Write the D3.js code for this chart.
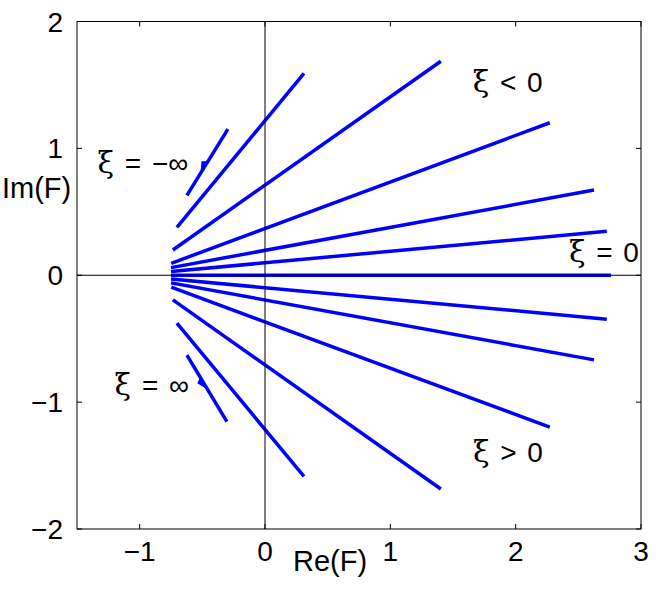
<html>
<head>
  <title>Re(F) / Im(F)</title>
  <script src="https://d3js.org/d3.v7.min.js"></script>
  <style>
    body { margin: 0; background: #fff; }
    text { font-family: "Liberation Sans", Arial, sans-serif; fill: #000; }
    .xi { font-family: "DejaVu Serif", serif; }
  </style>
</head>
<body>
<script>
  // segment end points (Re, Im)
  var startRe = [-0.623, -0.703, -0.735, -0.748, -0.750, -0.750, -0.750, -0.750, -0.750, -0.748, -0.735, -0.703, -0.623]
  var startIm = [ 0.630,  0.378,  0.199,  0.094,  0.060,  0.030,  0.000, -0.030, -0.060, -0.094, -0.194, -0.378, -0.630]
  var endRe   = [-0.296,  0.311,  1.403,  2.272,  2.625,  2.727,  2.761,  2.727,  2.625,  2.272,  1.403,  0.311, -0.304]
  var endIm   = [ 1.152,  1.591,  1.687,  1.202,  0.672,  0.346,  0.000, -0.346, -0.667, -1.197, -1.685, -1.586, -1.153]

  // little barbs on the two outer segments: [segment index, t from, t peak, t to]
  var barbs = [[0, 0.33, 0.47, 0.52], [12, 0.33, 0.38, 0.52]]

  var xTicks = [-1, 0, 1, 2, 3]
  var yTicks = [-2, -1, 0, 1, 2]

  var notes = [
    { x: 1.657, y: 1.446, t: '< 0' },
    { x: 2.425, y: 0.107, t: '= 0' },
    { x: 1.659, y: -1.468, t: '> 0' },
    { x: -1.336, y: 0.806, t: '= \u2212\u221e' },
    { x: -1.200, y: -0.943, t: '= \u221e' }
  ]

  var W = 664, H = 599
  var x = d3.scaleLinear().domain([-1.5, 3]).range([77, 641])
  var y = d3.scaleLinear().domain([-2, 2]).range([529, 21.5])

  var svg = d3.select('body').append('svg')
      .attr('width', W).attr('height', H)

  // segments
  var segs = d3.range(startRe.length).map(function (i) {
    return { x0: startRe[i], y0: startIm[i], x1: endRe[i], y1: endIm[i] }
  })
  svg.selectAll('line.seg')
      .data(segs)
      .enter()
    .append('line')
      .attr('class', 'seg')
      .attr('x1', function (d) { return x(d.x0) })
      .attr('y1', function (d) { return y(d.y0) })
      .attr('x2', function (d) { return x(d.x1) })
      .attr('y2', function (d) { return y(d.y1) })
      .attr('stroke', '#0000ff')
      .attr('stroke-width', 3.5)

  // barbs
  svg.selectAll('path.barb')
      .data(barbs)
      .enter()
    .append('path')
      .attr('class', 'barb')
      .attr('fill', '#0000ff')
      .attr('d', function (b) {
        var s = segs[b[0]]
        var px = function (t) { return x(s.x0 + t * (s.x1 - s.x0)) }
        var py = function (t) { return y(s.y0 + t * (s.y1 - s.y0)) }
        var dx = px(1) - px(0), dy = py(1) - py(0), L = Math.sqrt(dx * dx + dy * dy)
        var k = 5.5
        var nx = -Math.abs(dy) / L * k, ny = (dy < 0 ? -dx : dx) / L * k
        return 'M' + px(b[1]) + ',' + py(b[1]) +
               'L' + (px(b[2]) + nx) + ',' + (py(b[2]) + ny) +
               'L' + px(b[3]) + ',' + py(b[3]) + 'Z'
      })

  // zero lines, on top of the segments
  svg.append('line')
      .attr('x1', x(-1.5)).attr('x2', x(3))
      .attr('y1', y(0)).attr('y2', y(0))
      .attr('stroke', '#000').attr('stroke-width', 1.2)
  svg.append('line')
      .attr('x1', x(0)).attr('x2', x(0))
      .attr('y1', y(2)).attr('y2', y(-2))
      .attr('stroke', '#000').attr('stroke-width', 1)

  // box with inward ticks
  var g = svg.append('g').attr('fill', 'none').attr('stroke', '#000').attr('stroke-width', 1)
  g.append('rect')
      .attr('x', x(-1.5)).attr('y', y(2))
      .attr('width', x(3) - x(-1.5)).attr('height', y(-2) - y(2))
  xTicks.forEach(function (v) {
    g.append('line').attr('x1', x(v)).attr('x2', x(v)).attr('y1', y(-2)).attr('y2', y(-2) - 5)
    g.append('line').attr('x1', x(v)).attr('x2', x(v)).attr('y1', y(2)).attr('y2', y(2) + 5)
  })
  yTicks.forEach(function (v) {
    g.append('line').attr('y1', y(v)).attr('y2', y(v)).attr('x1', x(-1.5)).attr('x2', x(-1.5) + 5)
    g.append('line').attr('y1', y(v)).attr('y2', y(v)).attr('x1', x(3)).attr('x2', x(3) - 5)
  })

  function fmt(v) { return v < 0 ? '\u2212' + (-v) : '' + v }

  // tick labels
  svg.selectAll('text.xt')
      .data(xTicks)
      .enter()
    .append('text')
      .attr('class', 'xt')
      .attr('x', function (d) { return x(d) })
      .attr('y', y(-2) + 32)
      .attr('font-size', 28)
      .style('text-anchor', 'middle')
      .text(fmt)
  svg.selectAll('text.yt')
      .data(yTicks)
      .enter()
    .append('text')
      .attr('class', 'yt')
      .attr('x', x(-1.5) - 14)
      .attr('y', function (d) { return y(d) + 10 })
      .attr('font-size', 28)
      .style('text-anchor', 'end')
      .text(fmt)

  // axis labels
  svg.append('text')
      .attr('x', 330).attr('y', 571)
      .attr('font-size', 29)
      .style('text-anchor', 'middle')
      .text('Re(F)')
  svg.append('text')
      .attr('x', 2).attr('y', 198)
      .attr('font-size', 29)
      .text('Im(F)')

  // xi annotations
  var nt = svg.selectAll('text.note')
      .data(notes)
      .enter()
    .append('text')
      .attr('class', 'note')
      .attr('x', function (d) { return x(d.x) })
      .attr('y', function (d) { return y(d.y) })
      .attr('font-size', 28)
      .attr('word-spacing', 3)
      .attr('xml:space', 'preserve')
  nt.append('tspan').attr('class', 'xi').attr('font-size', 30).text('\u03be')
  nt.append('tspan').text(function (d) { return ' ' + d.t })
</script>
</body>
</html>
